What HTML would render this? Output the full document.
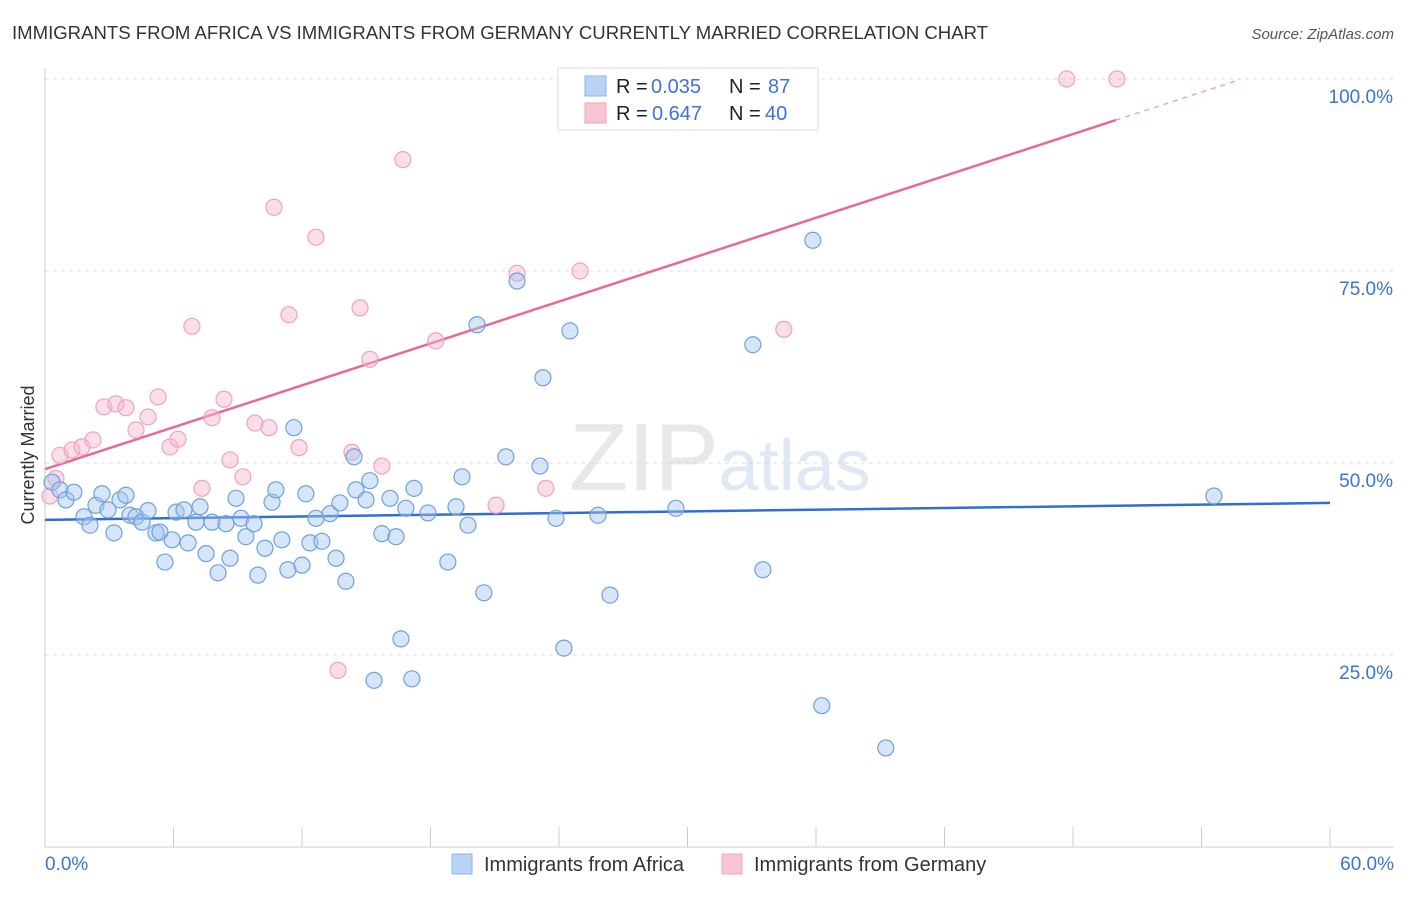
<!DOCTYPE html>
<html><head><meta charset="utf-8">
<style>
body{margin:0;background:#fff;font-family:"Liberation Sans",sans-serif;}
svg text{font-family:"Liberation Sans",sans-serif;}
</style></head>
<body>
<svg id="chart" width="1406" height="892" viewBox="0 0 1406 892" xmlns="http://www.w3.org/2000/svg">
<text x="12" y="39" font-size="18" fill="#333" textLength="976" lengthAdjust="spacingAndGlyphs">IMMIGRANTS FROM AFRICA VS IMMIGRANTS FROM GERMANY CURRENTLY MARRIED CORRELATION CHART</text>
<text x="1394" y="39" font-size="15" fill="#555" text-anchor="end" font-style="italic">Source: ZipAtlas.com</text>
<text x="720" y="490" font-size="96" text-anchor="middle" font-family="Liberation Serif"><tspan fill="#e8e8e8">ZIP</tspan><tspan fill="#dfe8f4" font-family="Liberation Sans" font-size="72">atlas</tspan></text>
<text x="34" y="455" font-size="18" fill="#333" text-anchor="middle" transform="rotate(-90 34 455)">Currently Married</text>
<g id="grid"></g>
<g id="axes"></g>
<g id="trends"></g>
<g id="points"></g>
<g>
<rect x="558" y="68" width="260" height="62" fill="#fff" stroke="#ddd"/>
<rect x="585" y="76" width="21" height="20" fill="#b8d3f5" stroke="#8cb4e8"/>
<rect x="585" y="103" width="21" height="20" fill="#f8c4d4" stroke="#f0a3bb"/>
<text x="616" y="93" font-size="20" fill="#222">R =</text>
<text x="651" y="93" font-size="20" fill="#3b74d4">0.035</text>
<text x="729" y="93" font-size="20" fill="#222">N =</text>
<text x="768" y="93" font-size="20" fill="#3b74d4">87</text>
<text x="616" y="120" font-size="20" fill="#222">R =</text>
<text x="652" y="120" font-size="20" fill="#3b74d4">0.647</text>
<text x="729" y="120" font-size="20" fill="#222">N =</text>
<text x="765" y="120" font-size="20" fill="#3b74d4">40</text>
</g>
<g>
<rect x="452" y="854" width="20" height="20" fill="#b8d3f5" stroke="#8cb4e8"/>
<text x="484" y="871" font-size="20" fill="#333">Immigrants from Africa</text>
<rect x="722" y="854" width="20" height="20" fill="#f8c4d4" stroke="#f0a3bb"/>
<text x="754" y="871" font-size="20" fill="#333">Immigrants from Germany</text>
</g>
</svg>
<script>
const yTicks=[25,50,75,100];
const yTickLabels=["25.0%","50.0%","75.0%","100.0%"];
const xTicks=[0,6,12,18,24,30,36,42,48,54,60];
const xEndLabels=["0.0%","60.0%"];
const africaX=[0.33,0.70,0.98,1.35,1.82,2.10,2.38,2.66,2.94,3.22,3.50,3.78,3.97,4.25,4.53,4.81,5.18,5.37,5.60,5.93,6.12,6.49,6.68,7.05,7.24,7.52,7.80,8.08,8.45,8.64,8.92,9.15,9.38,9.76,9.94,10.27,10.60,10.78,11.06,11.34,11.62,12.00,12.18,12.37,12.65,12.93,13.31,13.59,13.77,14.05,14.43,14.52,14.99,15.17,15.36,15.73,16.11,16.39,16.62,16.85,17.13,17.23,17.88,18.81,19.19,19.47,19.75,20.17,20.49,21.52,22.04,23.11,23.25,23.86,24.23,24.51,25.82,26.38,29.46,33.05,33.52,35.85,36.27,39.26,54.58];
const africaY=[47.5,46.5,45.2,46.2,43.0,41.9,44.5,46.0,43.9,40.9,45.2,45.8,43.2,43.0,42.3,43.8,40.9,41.0,37.1,40.0,43.6,43.9,39.6,42.3,44.3,38.2,42.3,35.7,42.1,37.6,45.4,42.8,40.4,42.1,35.4,38.9,44.9,46.5,40.0,36.1,54.6,36.7,46.0,39.6,42.8,39.8,43.4,37.6,44.8,34.6,50.8,46.5,45.2,47.7,21.7,40.8,45.4,40.4,27.1,44.1,21.9,46.7,43.5,37.1,44.3,48.2,41.9,68.0,33.1,50.8,73.7,49.6,61.1,42.8,25.9,67.2,43.2,32.8,44.1,65.4,36.1,79.0,18.4,12.9,45.7];
const germanyX=[0.23,0.51,0.70,1.26,1.73,2.24,2.75,3.31,3.78,4.25,4.81,5.28,5.84,6.21,6.86,7.33,7.80,8.36,8.64,9.24,9.80,10.46,10.69,11.39,11.86,12.65,13.68,14.33,14.71,15.17,15.73,16.71,18.25,21.06,22.04,23.39,24.98,34.50,47.71,50.05];
const germanyY=[45.7,48.0,51.0,51.7,52.1,53.0,57.3,57.7,57.2,54.3,56.0,58.6,52.1,53.1,67.8,46.7,55.9,58.3,50.4,48.2,55.2,54.6,83.3,69.3,52.0,79.4,23.0,51.4,70.2,63.5,49.6,89.5,65.9,44.5,74.7,46.7,75.0,67.4,100,100];
const africaTrend=[42.6,44.8];
const germanyTrend=[49.2,0.909];
const germanySolidEnd=50, germanyDashEnd=55.8;

const NS="http://www.w3.org/2000/svg";
const sx=v=>45+v*(1330-45)/60;
const sy=v=>847-v*7.68;
function mk(tag,attrs,parent){const e=document.createElementNS(NS,tag);for(const k in attrs)e.setAttribute(k,attrs[k]);document.getElementById(parent).appendChild(e);return e;}

yTicks.forEach((t,i)=>{
  const l=mk('line',{x1:45,x2:1394,y1:sy(t),y2:sy(t),stroke:'#ddd','stroke-dasharray':'4 4'},'grid');
  
  
  const tx=mk('text',{x:1393,y:sy(t)+24,'font-size':19,fill:'#3b74d4','text-anchor':'end'},'axes');
  tx.textContent=yTickLabels[i];
  
  
});
const xa=mk('line',{x1:45,x2:1394,y1:847,y2:847,stroke:'#ccc'},'axes');


const ya=mk('line',{x1:45,x2:45,y1:68,y2:847,stroke:'#ccc'},'axes');


xTicks.forEach(t=>{
  const l=mk('line',{x1:sx(t),x2:sx(t),y1:827,y2:847,stroke:'#ccc'},'axes');
  
  
});
const xl0=mk('text',{x:45,y:870,'font-size':19,fill:'#3b74d4'},'axes');
xl0.textContent=xEndLabels[0];


const xl1=mk('text',{x:1394,y:870,'font-size':19,fill:'#3b74d4','text-anchor':'end'},'axes');
xl1.textContent=xEndLabels[1];



const bt=mk('line',{x1:sx(0),y1:sy(africaTrend[0]),x2:sx(60),y2:sy(africaTrend[1]),stroke:'#2f6fd1','stroke-width':2.5},'trends');


const gy=x=>germanyTrend[0]+germanyTrend[1]*x;
const pt=mk('line',{x1:sx(0),y1:sy(gy(0)),x2:sx(germanySolidEnd),y2:sy(gy(germanySolidEnd)),stroke:'#e8689a','stroke-width':2.5},'trends');


const pd=mk('line',{x1:sx(germanySolidEnd),y1:sy(gy(germanySolidEnd)),x2:sx(germanyDashEnd),y2:sy(gy(germanyDashEnd)),stroke:'#f0a0bb','stroke-width':1.5,'stroke-dasharray':'5 5'},'trends');



germanyX.forEach((x,i)=>{
  const c=mk('circle',{cx:sx(x),cy:sy(germanyY[i]),r:8,fill:'rgba(246,182,202,0.45)',stroke:'#f0a3bb','stroke-width':1.2},'points');
  
  
});
africaX.forEach((x,i)=>{
  const c=mk('circle',{cx:sx(x),cy:sy(africaY[i]),r:8,fill:'rgba(165,198,240,0.45)',stroke:'#6fa0e0','stroke-width':1.2},'points');
  
  
});
</script>
</body></html>
